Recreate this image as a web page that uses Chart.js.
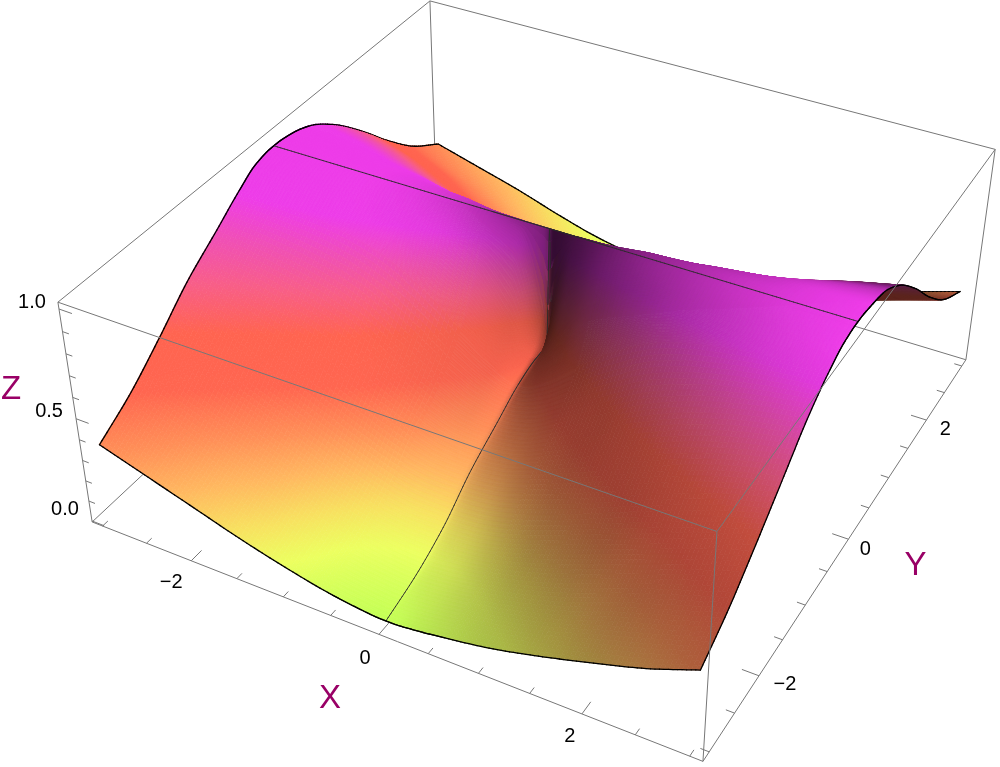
<!DOCTYPE html>
<html><head><meta charset="utf-8">
<script src="https://cdn.jsdelivr.net/npm/chart.js@4"></script>
<style>html,body{margin:0;padding:0;background:#fff}canvas{display:block}</style>
</head><body><canvas id="c" width="1000" height="767"></canvas>
<script>
const gridX=[-3,-2.5,-2,-1.5,-1,-0.6,-0.3,-0.05,0,0.05,0.3,0.6,1,1.5,2,2.5,3];
const gridY=[-3,-2.5,-2,-1.5,-1,-0.6,-0.3,-0.05,0,0.05,0.3,0.6,1,1.5,2,2.5,3];
// surface height, one row per gridY value
const heightRows=[
[.36,.29,.22,.15,.09,.05,.03,.02,.02,.02,.03,.05,.08,.135,.20,.27,.36],
[.46,.38,.30,.23,.15,.10,.08,.07,.07,.07,.08,.10,.14,.21,.30,.38,.46],
[.59,.51,.42,.33,.24,.18,.155,.15,.15,.15,.155,.18,.24,.33,.42,.51,.59],
[.73,.66,.58,.49,.39,.32,.28,.27,.27,.27,.28,.32,.39,.49,.59,.67,.73],
[.84,.81,.76,.68,.55,.45,.38,.36,.36,.36,.38,.45,.55,.68,.77,.83,.87],
[.93,.92,.90,.85,.74,.60,.49,.43,.43,.43,.49,.60,.74,.85,.90,.93,.95],
[.985,.98,.97,.955,.91,.80,.62,.47,.46,.47,.62,.80,.91,.955,.97,.98,.99],
[1,1,1,1,1,.99,.97,.63,.47,.63,.97,.99,1,1,1,1,1],
[1,1,1,1,1,1,1,1,1,1,1,1,1,1,1,1,1],
[1,1,1,1,1,.99,.97,.63,.47,.63,.97,.99,1,1,1,1,1],
[.99,.98,.97,.955,.91,.80,.62,.47,.46,.47,.62,.80,.91,.955,.97,.98,.99],
[.96,.94,.90,.85,.74,.60,.49,.43,.43,.43,.49,.60,.74,.85,.90,.94,.97],
[.88,.84,.77,.68,.55,.45,.38,.36,.36,.36,.38,.45,.55,.68,.77,.85,.90],
[.74,.68,.59,.49,.39,.32,.28,.27,.27,.27,.28,.32,.39,.49,.59,.69,.76],
[.58,.51,.42,.33,.25,.20,.17,.16,.16,.16,.18,.21,.26,.34,.43,.52,.59],
[.44,.37,.30,.22,.15,.11,.09,.08,.08,.08,.09,.12,.17,.24,.31,.38,.45],
[.34,.28,.22,.15,.09,.06,.05,.05,.05,.05,.05,.06,.09,.15,.22,.29,.36]];
// surface brightness, same layout
const shadeRows=[
[1,1,1,1,1,1,1,1,1,1,.93,.85,.75,.68,.64,.66,.68],
[1,1,1,1,1,1,1,1,1,.95,.88,.78,.68,.63,.63,.66,.7],
[1,1,1,1,1,1,1,1,1,.92,.84,.72,.62,.6,.65,.7,.76],
[1,1,1,1,1,1,1,1,.95,.85,.75,.65,.6,.62,.68,.76,.84],
[1,1,1,1,.98,.97,.97,1,.9,.75,.62,.58,.58,.64,.74,.84,.92],
[1,1,1,1,.97,.95,.95,1,.8,.55,.5,.5,.56,.68,.8,.9,.97],
[1,1,1,.98,.95,.9,.88,.95,.66,.42,.4,.45,.56,.71,.83,.93,1],
[1,1,1,.97,.88,.75,.68,.65,.5,.24,.3,.44,.6,.74,.86,.95,1],
[1,1,1,.97,.88,.72,.6,.5,.4,.22,.3,.45,.6,.74,.86,.95,1],
[1,1,1,.97,.88,.75,.68,.65,.5,.24,.3,.44,.6,.74,.86,.95,1],
[1,1,1,.98,.95,.9,.88,.95,.66,.42,.4,.45,.56,.71,.83,.95,1],
[1,1,1,1,.97,.95,.95,1,.8,.55,.5,.5,.56,.68,.8,.85,.85],
[1,1,1,1,.98,.97,.97,1,.9,.75,.62,.58,.58,.6,.55,.5,.45],
[1,1,1,1,1,1,1,1,.93,.75,.65,.55,.55,.55,.45,.36,.36],
[1,1,1,1,1,1,1,1,1,.9,.8,.67,.6,.5,.38,.36,.36],
[1,1,1,1,1,1,1,1,1,.95,.88,.78,.68,.5,.35,.38,.5],
[1,1,1,1,1,1,1,1,1,1,.93,.85,.75,.5,.38,.5,.75]];
const colorStops=[[0,196,255,85],[.02,196,255,85],[.10,236,255,96],[.17,248,224,96],[.25,255,184,96],[.34,255,144,88],[.46,255,102,80],[.6,255,100,80],[.72,248,94,136],[.82,240,80,180],[.92,238,60,232],[1.05,238,60,232]];
const xTicks=[-3,-2.5,-2,-1.5,-1,-.5,0,.5,1,1.5,2,2.5,3];
const yTicks=[-3,-2.5,-2,-1.5,-1,-.5,0,.5,1,1.5,2,2.5,3];
const zTicks=[0,.1,.2,.3,.4,.5,.6,.7,.8,.9,1];
const xLabels=[[-2,"\u22122"],[0,"0"],[2,"2"]];
const yLabels=[[-2,"\u22122"],[0,"0"],[2,"2"]];
const zLabels=[[0,"0.0"],[.5,"0.5"],[1,"1.0"]];
const xLabelShift=[[-20,22],[-14,24],[-12,23]];
const yLabelShift=[[26,9],[17,10],[19,9]];
const zLabelShift=[[-27,-11],[-27,-7],[-27,-7]];
const BOX=3.12, ZMIN=-0.005, ZMAX=1.03;
// camera: image of the plot-box corners (u,v,w in 0..1)
const cameraAnchors=[
[0,0,1,58,302],[0,0,0,92,522],[1,0,0,703,761],[1,0,1,717,532],
[1,1,1,995,149],[1,1,0,966,360],[0,1,1,430,1]];
function solveCamera(){
  const n=11,A=Array.from({length:n},()=>new Array(n+1).fill(0));
  const add=(r,b)=>{for(let i=0;i<n;i++){for(let j=0;j<n;j++)A[i][j]+=r[i]*r[j];A[i][n]+=r[i]*b;}};
  for(const [u,v,w,px,py] of cameraAnchors){
    add([u,v,w,1,0,0,0,0,-px*u,-px*v,-px*w],px);
    add([0,0,0,0,u,v,w,1,-py*u,-py*v,-py*w],py);
  }
  for(let i=0;i<n;i++)A[i][i]+=1e-9;
  for(let i=0;i<n;i++){
    let m=i;for(let k=i+1;k<n;k++)if(Math.abs(A[k][i])>Math.abs(A[m][i]))m=k;
    [A[i],A[m]]=[A[m],A[i]];
    for(let k=0;k<n;k++){if(k===i)continue;const f=A[k][i]/A[i][i];for(let j=i;j<=n;j++)A[k][j]-=f*A[i][j];}
  }
  return A.map((r,i)=>r[n]/r[i]);
}
const cam=solveCamera();
function uvw(x,y,z){return [(x+BOX)/(2*BOX),(y+BOX)/(2*BOX),(z-ZMIN)/(ZMAX-ZMIN)];}
function depth(x,y,z){const [u,v,w]=uvw(x,y,z);return cam[8]*u+cam[9]*v+cam[10]*w+1;}
function project(x,y,z){const [u,v,w]=uvw(x,y,z),d=cam[8]*u+cam[9]*v+cam[10]*w+1;
  return {x:(cam[0]*u+cam[1]*v+cam[2]*w+cam[3])/d,y:(cam[4]*u+cam[5]*v+cam[6]*w+cam[7])/d};}
function seg(list,a,b){list.push(project(...a),project(...b),{x:NaN,y:NaN});}
const B=BOX;
const backEdges=[];
seg(backEdges,[-B,-B,ZMIN],[B,-B,ZMIN]);seg(backEdges,[B,-B,ZMIN],[B,B,ZMIN]);
seg(backEdges,[B,B,ZMIN],[-B,B,ZMIN]);seg(backEdges,[-B,B,ZMIN],[-B,-B,ZMIN]);
seg(backEdges,[-B,-B,ZMIN],[-B,-B,ZMAX]);seg(backEdges,[-B,B,ZMIN],[-B,B,ZMAX]);seg(backEdges,[B,B,ZMIN],[B,B,ZMAX]);
seg(backEdges,[-B,-B,ZMAX],[-B,B,ZMAX]);seg(backEdges,[-B,B,ZMAX],[B,B,ZMAX]);
const tickLines=[];
xTicks.forEach(t=>seg(tickLines,[t,-B,ZMIN],[t,-B+(xLabels.some(l=>l[0]===t)?.16:.08),ZMIN]));
yTicks.forEach(t=>seg(tickLines,[B,t,ZMIN],[B-(yLabels.some(l=>l[0]===t)?.16:.08),t,ZMIN]));
zTicks.forEach(t=>seg(tickLines,[-B,-B,t],[-B+(zLabels.some(l=>l[0]===t)?.14:.07),-B,t]));
const frontEdges=[];
seg(frontEdges,[-B,-B,ZMAX],[B,-B,ZMAX]);seg(frontEdges,[B,-B,ZMAX],[B,B,ZMAX]);seg(frontEdges,[B,-B,ZMIN],[B,-B,ZMAX]);
const surfaceVerts=[];
gridY.forEach((y,j)=>gridX.forEach((x,i)=>surfaceVerts.push(project(x,y,heightRows[j][i]))));

function pchipTangents(xs,ys){
  const n=xs.length,h=[],d=[],m=new Array(n);
  for(let i=0;i<n-1;i++){h[i]=xs[i+1]-xs[i];d[i]=(ys[i+1]-ys[i])/h[i];}
  m[0]=d[0];m[n-1]=d[n-2];
  for(let i=1;i<n-1;i++){
    if(d[i-1]*d[i]<=0)m[i]=0;
    else{const a=2*h[i]+h[i-1],b=h[i]+2*h[i-1];m[i]=(a+b)/(a/d[i-1]+b/d[i]);}
  }
  return m;
}
function pchip(xs,ys,qs){
  const m=pchipTangents(xs,ys);let k=0;
  return qs.map(q=>{
    while(k<xs.length-2&&q>xs[k+1])k++;
    const h=xs[k+1]-xs[k],t=(q-xs[k])/h,t2=t*t,t3=t2*t;
    return (2*t3-3*t2+1)*ys[k]+(t3-2*t2+t)*h*m[k]+(-2*t3+3*t2)*ys[k+1]+(t3-t2)*h*m[k+1];
  });
}
function refine(rows,fx,fy){
  const byRow=rows.map(r=>pchip(gridX,r,fx));
  const out=fy.map(()=>new Array(fx.length));
  fx.forEach((_,i)=>{
    const col=pchip(gridY,byRow.map(r=>r[i]),fy);
    col.forEach((v,j)=>out[j][i]=v);
  });
  return out;
}
function colorAt(z,s){
  let k=0;while(k<colorStops.length-2&&z>colorStops[k+1][0])k++;
  const a=colorStops[k],b=colorStops[k+1],t=Math.max(0,Math.min(1,(z-a[0])/(b[0]-a[0])));
  const c=[1,2,3].map(i=>Math.round((a[i]+(b[i]-a[i])*t)*s));
  return `rgb(${c[0]},${c[1]},${c[2]})`;
}
function fineAxis(){
  const f=[];
  for(let i=0;i<60;i++)f.push(-3+i*.04);
  for(let i=0;i<120;i++)f.push(-.6+i*.01);
  for(let i=0;i<=60;i++)f.push(.6+i*.04);
  return f.map(v=>Math.round(v*1000)/1000);
}
const surfacePlugin={id:'surface',
  afterDatasetDraw(chart,args){
    if(chart.data.datasets[args.index].label!=='surface')return;
    const ctx=chart.ctx,sx=chart.scales.x,sy=chart.scales.y;
    const fx=fineAxis(),fy=fineAxis(),N=fx.length-1;
    const Z=refine(heightRows,fx,fy),S=refine(shadeRows,fx,fy);
    const P=fy.map((y,j)=>fx.map((x,i)=>{const p=project(x,y,Z[j][i]);return [sx.getPixelForValue(p.x),sy.getPixelForValue(p.y)];}));
    const items=[],bias=.009*(Math.abs(cam[8])+Math.abs(cam[9]));
    const near0=v=>Math.abs(v)<1e-6;
    for(let j=0;j<N;j++)for(let i=0;i<N;i++){
      const xm=(fx[i]+fx[i+1])/2,ym=(fy[j]+fy[j+1])/2,zm=(Z[j][i]+Z[j][i+1]+Z[j+1][i]+Z[j+1][i+1])/4,sm=(S[j][i]+S[j][i+1]+S[j+1][i]+S[j+1][i+1])/4;
      items.push({d:depth(xm,ym,zm),t:0,p:[P[j][i],P[j][i+1],P[j+1][i+1],P[j+1][i]],c:colorAt(zm,sm)});
    }
    const line=(j1,i1,j2,i2,w,c)=>{
      const xm=(fx[i1]+fx[i2])/2,ym=(fy[j1]+fy[j2])/2,zm=(Z[j1][i1]+Z[j2][i2])/2;
      items.push({d:depth(xm,ym,zm)-bias,t:1,a:P[j1][i1],b:P[j2][i2],w,c});
    };
    for(let j=0;j<=N;j++)for(let i=0;i<N;i++){
      if(j===0||j===N)line(j,i,j,i+1,1.3,'#000');
      else if(near0(fy[j]))line(j,i,j,i+1,.9,'#2a2a2a');
    }
    for(let i=0;i<=N;i++)for(let j=0;j<N;j++){
      if(i===0||i===N)line(j,i,j+1,i,1.3,'#000');
      else if(near0(fx[i]))line(j,i,j+1,i,.9,'#2a2a2a');
    }
    items.sort((a,b)=>b.d-a.d);
    ctx.save();ctx.lineCap='round';ctx.lineJoin='round';
    for(const it of items){
      if(it.t===0){
        ctx.beginPath();ctx.moveTo(it.p[0][0],it.p[0][1]);
        for(let k=1;k<4;k++)ctx.lineTo(it.p[k][0],it.p[k][1]);
        ctx.closePath();ctx.fillStyle=it.c;ctx.strokeStyle=it.c;ctx.lineWidth=.8;ctx.fill();ctx.stroke();
      }else{
        ctx.beginPath();ctx.moveTo(it.a[0],it.a[1]);ctx.lineTo(it.b[0],it.b[1]);
        ctx.lineWidth=it.w;ctx.strokeStyle=it.c;ctx.stroke();
      }
    }
    ctx.restore();
  },
  afterDraw(chart){
    const ctx=chart.ctx,sx=chart.scales.x,sy=chart.scales.y;
    const put=(p,d,txt)=>ctx.fillText(txt,sx.getPixelForValue(p.x)+d[0],sy.getPixelForValue(p.y)+d[1]);
    ctx.save();ctx.textAlign='center';ctx.textBaseline='middle';
    ctx.fillStyle='#000';ctx.font='20px "Liberation Sans"';
    xLabels.forEach(([t,s],i)=>put(project(t,-B,ZMIN),xLabelShift[i],s));
    yLabels.forEach(([t,s],i)=>put(project(B,t,ZMIN),yLabelShift[i],s));
    zLabels.forEach(([t,s],i)=>put(project(-B,-B,t),zLabelShift[i],s));
    ctx.fillStyle='#990066';ctx.font='33px "Liberation Sans"';
    put(project(0,-B,ZMIN),[-49,65],'X');
    put(project(B,0,ZMIN),[67,27],'Y');
    put(project(-B,-B,.5),[-65,-29],'Z');
    ctx.restore();
  }
};
const lineOpts={showLine:true,pointRadius:0,spanGaps:false,borderColor:'#777',borderWidth:1,fill:false,tension:0};
new Chart(document.getElementById('c'),{
  type:'scatter',
  data:{datasets:[
    {label:'box back',data:backEdges,order:4,...lineOpts},
    {label:'ticks',data:tickLines,order:3,...lineOpts},
    {label:'surface',data:surfaceVerts,order:2,showLine:false,pointRadius:0},
    {label:'box front',data:frontEdges,order:1,...lineOpts}
  ]},
  options:{responsive:false,animation:false,devicePixelRatio:1,
    layout:{padding:0},
    plugins:{legend:{display:false},tooltip:{enabled:false}},
    scales:{x:{type:'linear',min:0,max:1000,display:false},y:{type:'linear',min:0,max:767,reverse:true,display:false}}},
  plugins:[surfacePlugin]
});
</script></body></html>
